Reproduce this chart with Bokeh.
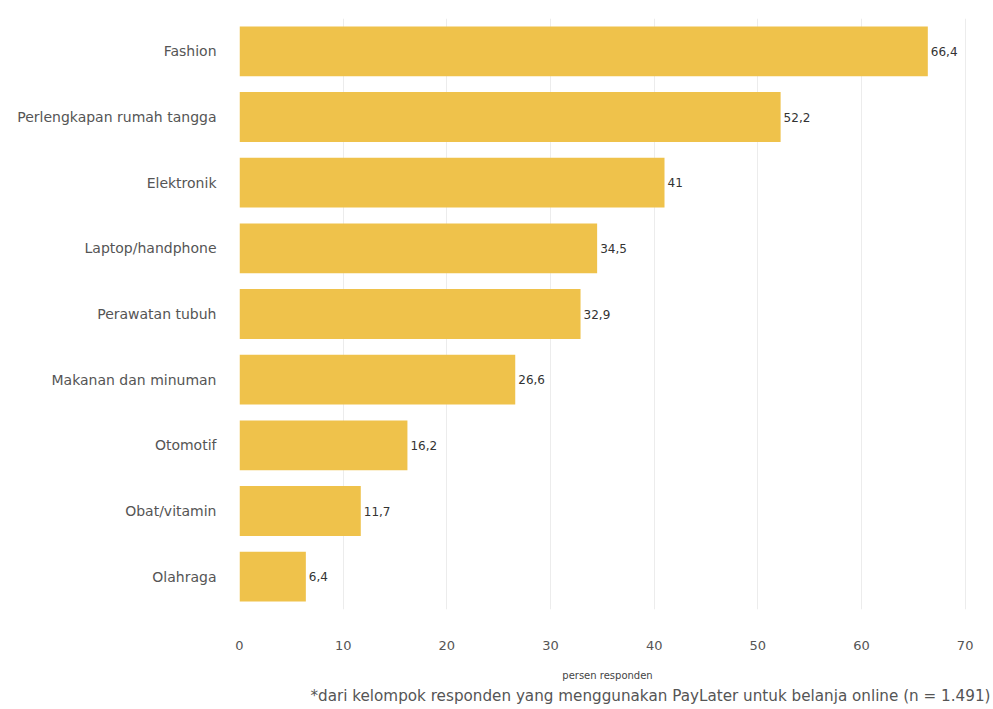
from bokeh.plotting import figure
from bokeh.embed import file_html
from bokeh.resources import INLINE
from bokeh.models import ColumnDataSource, Title, FixedTicker
from bokeh.core.properties import value

categories = ["Fashion", "Perlengkapan rumah tangga", "Elektronik", "Laptop/handphone",
              "Perawatan tubuh", "Makanan dan minuman", "Otomotif", "Obat/vitamin", "Olahraga"]
values = [66.4, 52.2, 41, 34.5, 32.9, 26.6, 16.2, 11.7, 6.4]
value_labels = ["66,4", "52,2", "41", "34,5", "32,9", "26,6", "16,2", "11,7", "6,4"]
x_ticks = [0, 10, 20, 30, 40, 50, 60, 70]

FONT = "DejaVu Sans"
src = ColumnDataSource(dict(cat=categories, val=values, lab=value_labels))

p = figure(width=990, height=705, y_range=list(reversed(categories)), x_range=(0, 71),
           output_backend="svg", toolbar_location=None,
           min_border_left=239, min_border_right=15, min_border_top=18, min_border_bottom=0)
p.hbar(y="cat", right="val", left=0, height=0.76, source=src, color="#EFC24B", line_color=None)
p.text(x="val", y="cat", text="lab", source=src, x_offset=3, text_baseline="middle",
       text_font=value(FONT), text_font_size="12px", text_color="#333333")

p.outline_line_color = None
p.ygrid.grid_line_color = None
p.xgrid.grid_line_color = "#ececec"
p.xaxis.ticker = FixedTicker(ticks=x_ticks)
p.xgrid.ticker = FixedTicker(ticks=x_ticks)
for ax in (p.xaxis[0], p.yaxis[0]):
    ax.axis_line_color = None
    ax.major_tick_line_color = None
    ax.minor_tick_line_color = None
    ax.major_label_text_font = FONT
    ax.major_label_text_color = "#555555"
p.yaxis.major_label_text_font_size = "14px"
p.xaxis.major_label_text_font_size = "13px"
p.yaxis.major_label_standoff = 17
p.xaxis.major_label_standoff = 25
p.xaxis.axis_label = "persen responden"
p.xaxis.axis_label_text_font = FONT
p.xaxis.axis_label_text_font_style = "normal"
p.xaxis.axis_label_text_font_size = "10px"
p.xaxis.axis_label_text_color = "#444444"
p.xaxis.axis_label_standoff = 17

note = Title(text="*dari kelompok responden yang menggunakan PayLater untuk belanja online (n = 1.491)",
             align="right", text_font=FONT, text_font_size="15.2px", text_font_style="normal",
             text_color="#555555", standoff=2, offset=-15)
p.add_layout(note, "below")

open("out.html", "w").write(file_html(p, INLINE))
